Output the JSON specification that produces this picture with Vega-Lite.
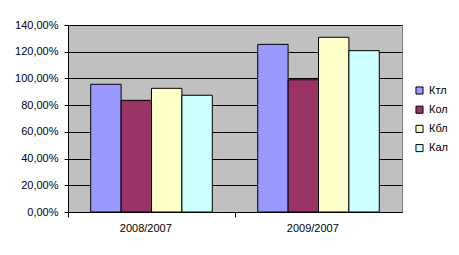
{
  "$schema": "https://vega.github.io/schema/vega-lite/v6.json",
  "autosize": {"type": "none"},
  "padding": {"left": 68, "top": 25, "right": 57, "bottom": 43},
  "width": 334,
  "height": 187,
  "background": "white",
  "data": {
    "values": [
      {"period": "2008/2007", "series": "Ктл", "value": 0.956},
      {"period": "2008/2007", "series": "Кол", "value": 0.836},
      {"period": "2008/2007", "series": "Кбл", "value": 0.926},
      {"period": "2008/2007", "series": "Кал", "value": 0.874},
      {"period": "2009/2007", "series": "Ктл", "value": 1.255},
      {"period": "2009/2007", "series": "Кол", "value": 0.990},
      {"period": "2009/2007", "series": "Кбл", "value": 1.308},
      {"period": "2009/2007", "series": "Кал", "value": 1.208}
    ]
  },
  "mark": {"type": "bar", "stroke": "black", "strokeWidth": 1},
  "encoding": {
    "x": {
      "field": "period",
      "type": "nominal",
      "scale": {"paddingInner": 0.272, "paddingOuter": 0.136},
      "axis": {
        "title": null,
        "labelAngle": 0,
        "bandPosition": 0,
        "tickOffset": -22.7,
        "labelOffset": 16.5,
        "labelFont": "Liberation Sans",
        "labelFontSize": 11,
        "labelColor": "black",
        "labelPadding": 5,
        "domainColor": "black",
        "tickColor": "black",
        "tickSize": 5,
        "grid": false
      }
    },
    "xOffset": {
      "field": "series",
      "type": "nominal",
      "sort": ["Ктл", "Кол", "Кбл", "Кал"],
      "scale": {"paddingInner": 0, "paddingOuter": 0}
    },
    "y": {
      "field": "value",
      "type": "quantitative",
      "scale": {"domain": [0, 1.4], "nice": false},
      "axis": {
        "title": null,
        "values": [0, 0.2, 0.4, 0.6, 0.8, 1.0, 1.2, 1.4],
        "labelExpr": "replace(format(datum.value, '.2%'), '.', ',')",
        "labelFont": "Liberation Sans",
        "labelFontSize": 11,
        "labelColor": "#000020",
        "labelPadding": 6,
        "domainColor": "black",
        "tickColor": "black",
        "tickSize": 4,
        "grid": true,
        "gridColor": "black",
        "gridOpacity": 1,
        "gridWidth": 1
      }
    },
    "fill": {
      "field": "series",
      "type": "nominal",
      "sort": ["Ктл", "Кол", "Кбл", "Кал"],
      "scale": {
        "domain": ["Ктл", "Кол", "Кбл", "Кал"],
        "range": ["#9999FF", "#993366", "#FFFFCC", "#CCFFFF"]
      },
      "legend": {
        "title": null,
        "orient": "none",
        "legendX": 346,
        "legendY": 60,
        "symbolType": "square",
        "symbolSize": 50,
        "symbolStrokeColor": "black",
        "symbolStrokeWidth": 1,
        "labelFont": "Liberation Sans",
        "labelFontSize": 11,
        "labelColor": "black",
        "rowPadding": 6.2
      }
    }
  },
  "config": {
    "view": {"fill": "#C0C0C0", "stroke": "#808080", "strokeWidth": 1},
    "axis": {"gridZIndex": 0}
  }
}
